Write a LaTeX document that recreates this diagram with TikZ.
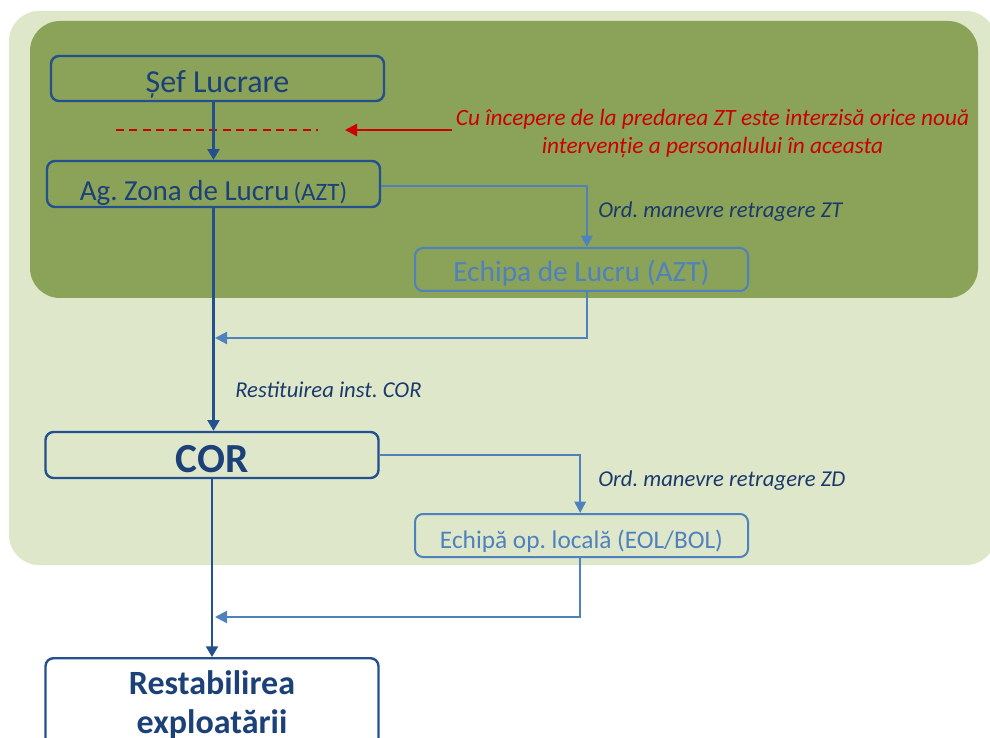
\documentclass[tikz,border=0pt]{standalone}
\usepackage{fontspec}
\setmainfont{Carlito}
\usetikzlibrary{arrows.meta}
\definecolor{lightgr}{HTML}{DFE7CB}
\definecolor{darkgr}{HTML}{8BA259}
\definecolor{dkblue}{HTML}{24508E}
\definecolor{txtblue}{HTML}{1C4178}
\definecolor{ltblue}{HTML}{4F81BD}
\definecolor{lblblue}{HTML}{1B3A6B}
\definecolor{redc}{HTML}{CC0000}
\frenchspacing
\begin{document}
\begin{tikzpicture}[x=0.75pt,y=-0.75pt,
  dkbox/.style={draw=dkblue, line width=1.8pt, rounded corners=6pt, minimum width=249.75pt, inner sep=0pt, text=txtblue},
  ltbox/.style={draw=ltblue, line width=1.5pt, rounded corners=6pt, minimum width=249.75pt, inner sep=0pt, text=ltblue},
  dkarrow/.style={draw=dkblue, line width=1.6pt, -{Triangle[length=8pt,width=9pt]}},
  ltarrow/.style={draw=ltblue, line width=1.6pt, -{Triangle[length=8.5pt,width=8.5pt]}},
  lbl/.style={text=lblblue, font=\fontsize{17}{20}\selectfont\itshape, inner sep=0pt},
]
\useasboundingbox (0,0) rectangle (990,738);
\clip (0,0) rectangle (990,738);
% backgrounds
\fill[lightgr, rounded corners=22.5pt] (9,11) rectangle (996,565);
\fill[darkgr, rounded corners=22.5pt] (30,21) rectangle (978,298);

% boxes
\node[dkbox, minimum height=33.75pt, text height=20.6pt, text depth=0pt,
      font=\fontsize{24}{28}\selectfont] (sef) at (217.5,78.5) {Șef Lucrare};
\node[dkbox, minimum height=34.5pt, text height=24.4pt, text depth=0pt,
      font=\fontsize{21.75}{26}\selectfont] (ag) at (213.5,184)
      {Ag. Zona de Lucru\hspace{3pt}{\fontsize{18.75}{22}\selectfont(AZT)}};
\node[ltbox, minimum height=32.25pt, text height=18.3pt, text depth=0pt,
      font=\fontsize{22}{26}\selectfont] (el) at (581.5,269.5) {Echipa de Lucru (AZT)};
\node[dkbox, minimum height=34.5pt, text height=26.5pt, text depth=0pt,
      font=\fontsize{31}{36}\selectfont\bfseries] (cor) at (212,455) {COR};
\node[ltbox, minimum height=32.25pt, text height=19.5pt, text depth=0pt,
      font=\fontsize{19}{22}\selectfont] (eo) at (581.5,535.5) {Echipă op. locală (EOL/BOL)};
\node[dkbox, fill=white, anchor=north, inner ysep=9pt, text depth=50pt, align=center,
      font=\fontsize{25.5}{29.25}\selectfont\bfseries] (rest) at (212,657)
      {Restabilirea\\exploatării};

% red note
\node[text=redc, align=center, inner sep=0pt,
      font=\fontsize{17.5}{21}\selectfont\itshape] (note) at (712.5,134)
      {Cu începere de la predarea ZT este interzisă orice nouă\\intervenție a personalului în aceasta};
\coordinate (redtip) at (345,130);
\coordinate (d1) at (116,130);
\coordinate (d2) at (318,130);
\draw[redc, line width=1.9pt, dash pattern=on 6pt off 4pt] (d1) -- (d2);
\draw[redc, line width=1.8pt, -{Triangle[length=9pt,width=9pt]}] ([xshift=-3pt]note.west |- redtip) -- (redtip);

% main flow
\draw[dkarrow] (ag.north |- sef.south) -- (ag.north);
\draw[dkarrow] (ag.south) -- (ag.south |- cor.north);
\draw[dkarrow] (cor.south) -- (cor.south |- rest.north);

% side branches
\coordinate (j1) at (215,338);
\coordinate (j2) at (215,617);
\draw[ltarrow] ([yshift=-1.5pt]ag.east) -| ([xshift=4pt]el.north);
\draw[ltarrow, -{Triangle[length=9pt,width=9pt]}] ([xshift=4pt]el.south) |- (j1);
\draw[ltarrow] (cor.east) -| ([xshift=-1pt]eo.north);
\draw[ltarrow, -{Triangle[length=9pt,width=9pt]}] ([xshift=-1pt]eo.south) |- (j2);

% labels
\node[lbl, anchor=west] (l1) at (598,212) {Ord. manevre retragere ZT};
\node[lbl, anchor=west] (l2) at (235,390) {Restituirea inst. COR};
\node[lbl, anchor=west] (l3) at (598,481) {Ord. manevre retragere ZD};
\end{tikzpicture}
\end{document}
